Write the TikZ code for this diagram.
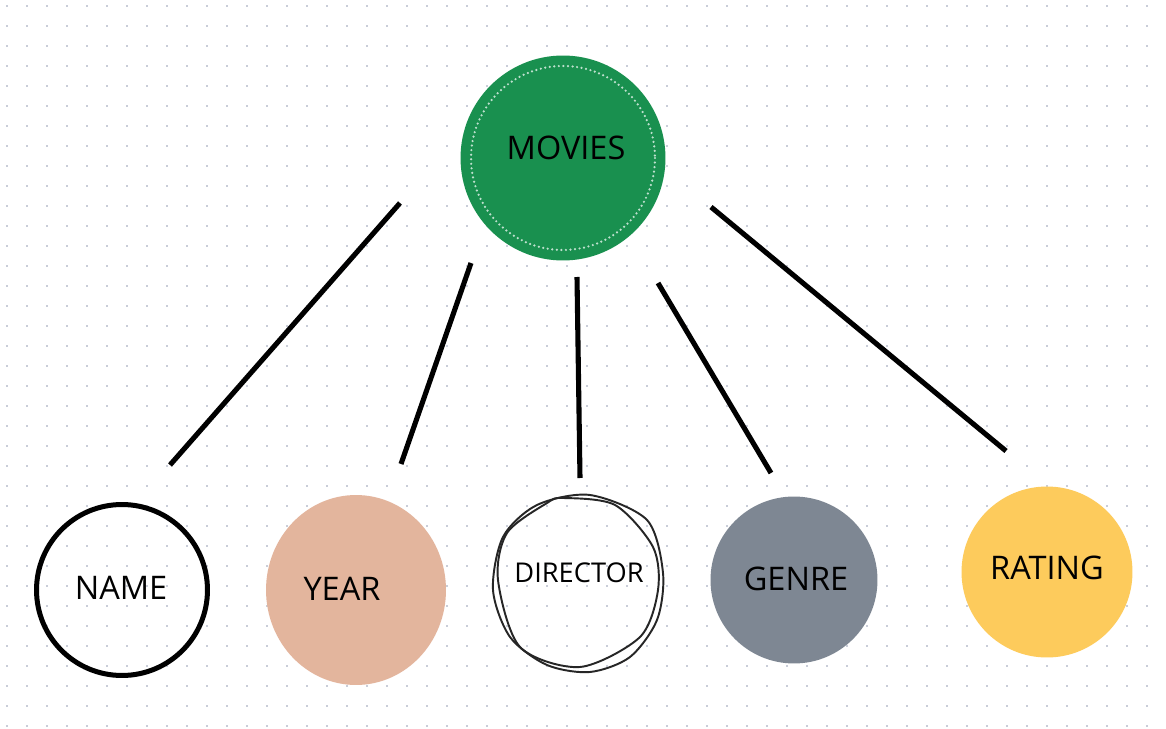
\documentclass[tikz,border=0pt]{standalone}
\usepackage{fontspec}
\setmainfont{Open Sans}
\usetikzlibrary{shapes.geometric}
\definecolor{moviegreen}{HTML}{19904F}
\definecolor{yearpeach}{HTML}{E3B59D}
\definecolor{genregrey}{HTML}{7E8793}
\definecolor{ratingyellow}{HTML}{FDCB5C}
\definecolor{griddot}{HTML}{C9CDD8}
\begin{document}
\begin{tikzpicture}[x=0.02cm,y=-0.02cm,
  bubble/.style={circle,inner sep=0pt},
  caption/.style={anchor=base,inner sep=0pt,font=\fontsize{18.5}{18.5}\selectfont},
  sketch/.style={black!85,line width=1.1pt},
  link/.style={line width=2.9pt}]
  \useasboundingbox (0,0) rectangle (1166,729);
  \fill[white] (0,0) rectangle (1166,729);
  % dotted paper
  \foreach \i in {0,...,58}
    \foreach \j in {0,...,36}
      \fill[griddot] (6+20*\i,5+20*\j) rectangle ++(2,2);

  % top entity
  \node[bubble,fill=moviegreen,minimum size=4.1cm] (movies) at (563,158) {};
  \draw[white!72!moviegreen,line width=1.4pt,line cap=round,dash pattern=on 0pt off 2.6pt]
    (movies.center) circle (92);
  \node[caption] (moviestxt) at (566,160) {MOVIES};

  % attributes
  \node[bubble,draw,line width=2.85pt,minimum size=3.42cm] (name) at (122,590) {};
  \node[caption] (nametxt) at (121,599) {NAME};
  \node[ellipse,inner sep=0pt,fill=yearpeach,minimum width=3.6cm,minimum height=3.8cm] (year) at (356,590) {};
  \node[caption] (yeartxt) at (342,600) {YEAR};
  \node[bubble,minimum size=3.3cm] (director) at (578,584) {};
  \draw[sketch] plot[smooth cycle] coordinates {(590,495) (647,520) (663,573) (657,620)
    (630,657) (590,672) (547,665) (510,637) (493,590) (503,537) (537,505)};
  \draw[sketch] plot[smooth cycle] coordinates {(563,498) (615,505) (653,547) (658,590)
    (640,637) (580,667) (520,647) (498,580) (507,533) (547,503)};
  \node[caption,font=\fontsize{15.5}{15.5}\selectfont] (directortxt) at (579,582) {DIRECTOR};
  \node[bubble,fill=genregrey,minimum size=3.34cm] (genre) at (794,580) {};
  \node[caption] (genretxt) at (796,590) {GENRE};
  \node[bubble,fill=ratingyellow,minimum size=3.42cm] (rating) at (1047,572) {};
  \node[caption] (ratingtxt) at (1047,579) {RATING};

  % connectors
  \coordinate (m1) at (400,203);  \coordinate (a1) at (170,465);
  \coordinate (m2) at (471,263);  \coordinate (a2) at (401,464);
  \coordinate (m3) at (577,277);  \coordinate (a3) at (580,478);
  \coordinate (m4) at (658,283);  \coordinate (a4) at (771,473);
  \coordinate (m5) at (711,207);  \coordinate (a5) at (1006,451);
  \draw[link] (m1) -- (a1);
  \draw[link] (m2) -- (a2);
  \draw[link] (m3) -- (a3);
  \draw[link] (m4) -- (a4);
  \draw[link] (m5) -- (a5);
\end{tikzpicture}
\end{document}
